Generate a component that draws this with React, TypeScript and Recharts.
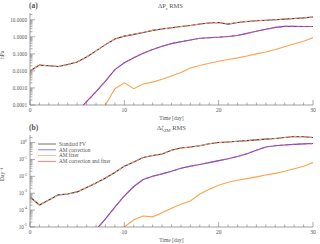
import { ReactNode } from 'react';
import { LineChart, Line, XAxis, YAxis, Legend } from 'recharts';

const days = [0, 1, 2, 3, 4, 5, 6, 7, 8, 9, 10, 11, 12, 13, 14, 15, 16, 17, 18, 19, 20, 21, 22, 23, 24, 25, 26, 27, 28, 29, 30];

// panel (a): surface pressure RMS difference, hPa
const psUpper = [0.010, 0.022, 0.020, 0.018, 0.024, 0.033, 0.065, 0.15, 0.35, 0.75, 1.1, 1.4, 1.8, 2.4, 2.9, 3.4, 4.0, 4.6, 5.6, 6.5, 6.9, 5.6, 7.0, 8.0, 8.8, 9.3, 10.0, 11.0, 12.0, 13.0, 14.5];
const psMiddle = [null, null, null, null, null, 0.00004, 0.00016, 0.0006, 0.0025, 0.012, 0.03, 0.06, 0.11, 0.18, 0.28, 0.4, 0.52, 0.65, 0.82, 0.88, 0.95, 1.05, 1.2, 1.6, 2.1, 2.8, 3.6, 4.1, 4.1, 4.0, 4.0];
const psLower = [null, null, null, null, null, null, null, null, 0.0001, 0.0009, 0.002, 0.0009, 0.0017, 0.0022, 0.0032, 0.005, 0.008, 0.015, 0.021, 0.028, 0.037, 0.047, 0.058, 0.075, 0.1, 0.13, 0.18, 0.26, 0.38, 0.55, 0.9];

// panel (b): zonal mean RMS difference, 1/day
const zmUpper = [0.0006, 0.0002, 0.0004, 0.0008, 0.0009, 0.0012, 0.0022, 0.004, 0.008, 0.017, 0.04, 0.07, 0.13, 0.17, 0.21, 0.35, 0.48, 0.54, 0.65, 0.85, 1.0, 1.08, 1.2, 1.3, 1.45, 1.6, 1.75, 2.0, 2.3, 2.2, 2.0];
const zmMiddle = [null, null, null, null, null, null, null, 0.000007, 0.00003, 0.00015, 0.0007, 0.0025, 0.0065, 0.01, 0.014, 0.02, 0.03, 0.04, 0.05, 0.065, 0.085, 0.11, 0.15, 0.22, 0.35, 0.55, 0.65, 0.72, 0.78, 0.83, 0.87];
const zmLower = [null, null, null, null, null, null, null, null, null, 0.000004, 0.00001, 0.000027, 0.000045, 0.00004, 0.00007, 0.00013, 0.00022, 0.00035, 0.0009, 0.0017, 0.003, 0.0045, 0.0058, 0.0073, 0.0093, 0.012, 0.015, 0.02, 0.028, 0.04, 0.065];

const dayMajor = [0, 10, 20, 30];
const psMajor = [0.0001, 0.001, 0.01, 0.1, 1, 10];
const zmMajor = [0.00001, 0.0001, 0.001, 0.01, 0.1, 1];
const legendOrder = ['Standard FV', 'AM correction', 'AM fixer', 'AM correction and fixer'];

const FONT = 'Liberation Serif, DejaVu Serif, serif';
const AXIS = '#777';
const TXT = '#555';

const minorLog = (majors: number[], top: number) =>
  majors.flatMap((m) => [2, 3, 4, 5, 6, 7, 8, 9].map((k) => k * m)).filter((v) => v <= top);

const dayTicks = [...days];

const fixed4 = (v: number): ReactNode => v.toFixed(4);
const power10 = (v: number): ReactNode => (
  <>
    10<tspan dy={-2.6} fontSize={3.8}>{Math.round(Math.log10(v))}</tspan>
  </>
);

const leftTick = (majors: number[], fmt: (v: number) => ReactNode) => (p: any) => {
  const major = majors.includes(p.payload.value);
  return (
    <g>
      <line x1={p.x + 2} x2={p.x + 2 + (major ? 5 : 2.5)} y1={p.y} y2={p.y} stroke={AXIS} strokeWidth={0.6} />
      {major && (
        <text x={p.x - 1} y={p.y} dy={1.8} textAnchor="end" fontSize={5.2} fontFamily={FONT} fill={TXT}>
          {fmt(p.payload.value)}
        </text>
      )}
    </g>
  );
};

const rightTick = (majors: number[]) => (p: any) => {
  const major = majors.includes(p.payload.value);
  return <line x1={p.x} x2={p.x - (major ? 5 : 2.5)} y1={p.y} y2={p.y} stroke={AXIS} strokeWidth={0.6} />;
};

const bottomTick = (p: any) => {
  const major = dayMajor.includes(p.payload.value);
  return (
    <g>
      <line x1={p.x} x2={p.x} y1={p.y - 2} y2={p.y - 2 - (major ? 5 : 2.5)} stroke={AXIS} strokeWidth={0.6} />
      {major && (
        <text x={p.x} y={p.y + 4.5} textAnchor="middle" fontSize={5.5} fontFamily={FONT} fill={TXT}>
          {p.payload.value}
        </text>
      )}
    </g>
  );
};

const topTick = (p: any) => {
  const major = dayMajor.includes(p.payload.value);
  return <line x1={p.x} x2={p.x} y1={p.y} y2={p.y + (major ? 5 : 2.5)} stroke={AXIS} strokeWidth={0.6} />;
};

const renderLegend = (props: any) => {
  const items = [...(props.payload ?? [])]
    .filter((e: any) => legendOrder.includes(e.value))
    .sort((a: any, b: any) => legendOrder.indexOf(a.value) - legendOrder.indexOf(b.value));
  return (
    <svg width={130} height={26}>
      {items.map((e: any, i: number) => (
        <g key={e.value}>
          <line x1={2} x2={20} y1={3 + i * 5.8} y2={3 + i * 5.8} stroke={e.color} strokeWidth={1} opacity={0.7} />
          <text x={23} y={3 + i * 5.8} dy={1.8} fontSize={5.3} fontFamily={FONT} fill={TXT}>
            {e.value}
          </text>
        </g>
      ))}
    </svg>
  );
};

type PanelProps = {
  upper: (number | null)[];
  middle: (number | null)[];
  lower: (number | null)[];
  yDomain: [number, number];
  yMajor: number[];
  yFmt: (v: number) => ReactNode;
  yLabel: string;
  withLegend?: boolean;
};

const Panel = ({ upper, middle, lower, yDomain, yMajor, yFmt, yLabel, withLegend }: PanelProps) => {
  const rows = days.map((t, i) => ({ t, upper: upper[i], middle: middle[i], lower: lower[i] }));
  const yTicks = [...yMajor, ...minorLog(yMajor, yDomain[1])];
  return (
    <LineChart width={320} height={122} data={rows} margin={{ top: 13, right: 7, bottom: 0, left: 0 }}>
      <XAxis
        xAxisId="b"
        dataKey="t"
        type="number"
        domain={[0, 30]}
        allowDataOverflow
        ticks={dayTicks}
        interval={0}
        tickSize={0}
        tickMargin={2}
        tick={bottomTick}
        height={17}
        axisLine={{ stroke: AXIS, strokeWidth: 0.7 }}
        label={{ value: 'Time [day]', position: 'insideBottom', offset: 2, fontSize: 5.5, fontFamily: FONT, fill: TXT }}
      />
      <XAxis
        xAxisId="top"
        dataKey="t"
        type="number"
        orientation="top"
        domain={[0, 30]}
        allowDataOverflow
        ticks={dayTicks}
        interval={0}
        tickSize={0}
        tickMargin={0}
        tick={topTick}
        height={0}
        axisLine={{ stroke: AXIS, strokeWidth: 0.7 }}
      />
      <YAxis
        yAxisId="l"
        scale="log"
        domain={yDomain}
        allowDataOverflow
        ticks={yTicks}
        interval={0}
        tickSize={0}
        tickMargin={2}
        tick={leftTick(yMajor, yFmt)}
        width={30}
        axisLine={{ stroke: AXIS, strokeWidth: 0.7 }}
        label={{ value: yLabel, angle: -90, position: 'insideLeft', offset: 2, fontSize: 5.5, fontFamily: FONT, fill: TXT }}
      />
      <YAxis
        yAxisId="r"
        orientation="right"
        scale="log"
        domain={yDomain}
        allowDataOverflow
        ticks={yTicks}
        interval={0}
        tickSize={0}
        tickMargin={0}
        tick={rightTick(yMajor)}
        width={0}
        axisLine={{ stroke: AXIS, strokeWidth: 0.7 }}
      />
      <Line xAxisId="b" yAxisId="l" dataKey="upper" name="Standard FV" stroke="#3a2a5a" strokeWidth={1.1} dot={false} isAnimationActive={false} />
      <Line xAxisId="b" yAxisId="l" dataKey="middle" name="AM correction" stroke="#4b4bff" strokeWidth={1.1} dot={false} isAnimationActive={false} />
      <Line xAxisId="b" yAxisId="l" dataKey="upper" name="AM fixer" stroke="#ff9a4d" strokeWidth={1.2} strokeDasharray="3 2" dot={false} isAnimationActive={false} />
      <Line xAxisId="b" yAxisId="l" dataKey="middle" name="AM correction and fixer" stroke="#ff4a4a" strokeWidth={1.1} strokeDasharray="3 3" dot={false} isAnimationActive={false} />
      <Line xAxisId="b" yAxisId="l" dataKey="lower" name="AM fixer (lower)" legendType="none" stroke="#ffa24d" strokeWidth={1.1} dot={false} isAnimationActive={false} />
      {withLegend && (
        <Legend
          content={renderLegend}
          layout="vertical"
          align="center"
          verticalAlign="middle"
          wrapperStyle={{ left: 36, top: 18.5, width: 130 }}
        />
      )}
    </LineChart>
  );
};

const label = (left: number, top: number, size: number, bold = false) => ({
  position: 'absolute' as const,
  left,
  top,
  fontSize: size,
  fontFamily: FONT,
  color: TXT,
  fontWeight: bold ? 700 : 400,
  lineHeight: 1,
  whiteSpace: 'nowrap' as const,
});

export default function App() {
  return (
    <div style={{ position: 'absolute', left: 0, top: 0, width: 320, height: 244, background: '#fff' }}>
      <Panel upper={psUpper} middle={psMiddle} lower={psLower} yDomain={[0.0001, 25]} yMajor={psMajor} yFmt={fixed4} yLabel="hPa" />
      <Panel upper={zmUpper} middle={zmMiddle} lower={zmLower} yDomain={[0.00001, 2.8]} yMajor={zmMajor} yFmt={power10} yLabel="Day⁻¹" withLegend />
      <div style={label(29, 2, 7.5, true)}>(a)</div>
      <div style={label(158, 2.5, 6.5)}>
        ΔP<sub style={{ fontSize: 4.5 }}>s</sub> RMS
      </div>
      <div style={label(29, 124, 7.5, true)}>(b)</div>
      <div style={label(157, 124.5, 6.5)}>
        Δζ<sub style={{ fontSize: 4.5 }}>ZM</sub> RMS
      </div>
    </div>
  );
}
